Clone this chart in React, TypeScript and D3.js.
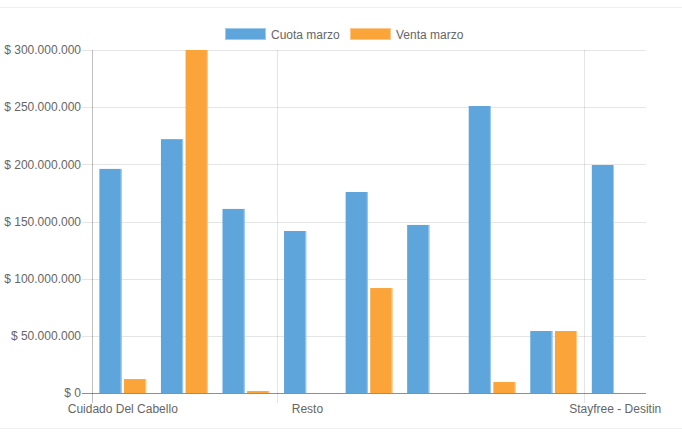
import React from "react";
import * as d3 from "d3";

const categories = [
  "Cuidado Del Cabello",
  "Categoría 2",
  "Categoría 3",
  "Resto",
  "Categoría 5",
  "Categoría 6",
  "Categoría 7",
  "Categoría 8",
  "Stayfree - Desitin",
];
const shownTickIdx = [0, 3, 8];
const cuotaMarzo = [196000000, 222000000, 161000000, 141700000, 175800000, 147000000, 251000000, 54200000, 199400000];
const ventaMarzo = [12200000, 300000000, 1700000, 0, 91800000, 0, 9600000, 54200000, 0];
const seriesNames = ["Cuota marzo", "Venta marzo"];
const seriesColors = ["#5DA5DA", "#FAA43A"];
const seriesBorders = ["#9fcbee", "#fcc98a"];
const yTicks = [0, 50000000, 100000000, 150000000, 200000000, 250000000, 300000000];

const W = 682;
const H = 437;
const left = 92;
const right = 646;
const top = 50;
const bottom = 393;
const font = "'Liberation Sans', Arial, Helvetica, sans-serif";

function fmt(v: number) {
  const s = Math.round(v).toString().replace(/\B(?=(\d{3})+(?!\d))/g, ".");
  return "$ " + s;
}

export default function App() {
  const x = d3.scaleBand<string>().domain(categories).range([left, right]).paddingInner(0).paddingOuter(0);
  const y = d3.scaleLinear().domain([0, 300000000]).range([bottom, top]);
  const inner = d3
    .scaleBand<number>()
    .domain([0, 1])
    .range([0, x.bandwidth()])
    .paddingOuter(0.125 / 0.8 * 0.8 / 1 * 1)
    .paddingInner(0);
  // Chart.js-like: category 80% of band, bar 90% of slot
  const catW = x.bandwidth() * 0.8;
  const slotW = catW / 2;
  const barW = slotW * 0.9;
  const series = [cuotaMarzo, ventaMarzo];
  void inner;

  return (
    <div style={{ position: "fixed", left: 0, top: 0 }}>
      <svg width={W} height={H} style={{ display: "block", background: "#fff" }}>
        <line x1={0} x2={W} y1={7.5} y2={7.5} stroke="#f0f0f0" strokeWidth={1} />
        <line x1={0} x2={W} y1={428.5} y2={428.5} stroke="#f0f0f0" strokeWidth={1} />

        {/* legend */}
        {seriesNames.map((n, i) => {
          const bx = i === 0 ? 225 : 350;
          return (
            <g key={n}>
              <rect x={bx + 0.5} y={28.5} width={40} height={11} fill={seriesColors[i]} stroke={seriesBorders[i]} strokeWidth={1} />
              <text x={bx + 46} y={38.5} fontFamily={font} fontSize={12} fill="#666">
                {n}
              </text>
            </g>
          );
        })}

        {/* horizontal grid */}
        {yTicks.map((t) => (
          <g key={t}>
            <line
              x1={82}
              x2={right}
              y1={Math.round(y(t)) + 0.5}
              y2={Math.round(y(t)) + 0.5}
              stroke={t === 0 ? "rgba(0,0,0,0.25)" : "rgba(0,0,0,0.1)"}
            />
            <text
              x={81}
              y={y(t)}
              dy="0.35em"
              textAnchor="end"
              fontFamily={font}
              fontSize={12}
              fill="#666"
            >
              {fmt(t)}
            </text>
          </g>
        ))}

        {/* vertical grid at shown ticks */}
        {shownTickIdx.map((i) => {
          const gx = Math.round(x(categories[i]) as number) + 0.5;
          return (
            <line
              key={i}
              x1={gx}
              x2={gx}
              y1={top}
              y2={403}
              stroke={i === 0 ? "rgba(0,0,0,0.25)" : "rgba(0,0,0,0.1)"}
            />
          );
        })}

        {/* bars */}
        {categories.map((c, ci) => {
          const cx = (x(c) as number) + x.bandwidth() / 2;
          return series.map((vals, si) => {
            const v = vals[ci];
            if (!v) return null;
            const slotCenter = cx - catW / 2 + slotW * (si + 0.5);
            const bx = slotCenter - barW / 2;
            const by = y(v);
            const h = bottom - by;
            return (
              <g key={c + si}>
                <rect x={bx} y={by} width={barW} height={h} fill={seriesColors[si]} />
                <line x1={bx + barW - 0.5} x2={bx + barW - 0.5} y1={by} y2={bottom} stroke={seriesBorders[si]} strokeWidth={1} />
              </g>
            );
          });
        })}

        {/* x axis line redraw */}
        <line x1={82} x2={right} y1={393.5} y2={393.5} stroke="rgba(0,0,0,0.25)" />

        {/* x labels */}
        {shownTickIdx.map((i) => (
          <text
            key={i}
            x={(x(categories[i]) as number) + x.bandwidth() / 2}
            y={413}
            textAnchor="middle"
            fontFamily={font}
            fontSize={12}
            fill="#666"
          >
            {categories[i]}
          </text>
        ))}
      </svg>
    </div>
  );
}
